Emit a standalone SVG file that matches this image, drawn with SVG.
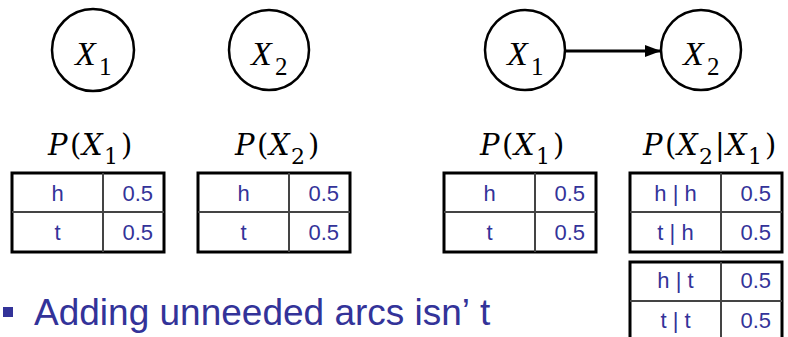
<svg xmlns="http://www.w3.org/2000/svg" width="788" height="337" viewBox="0 0 788 337">
<style>
.node{fill:#fff;stroke:#000;stroke-width:2.5}
.math{font-family:"Liberation Serif","Times New Roman",serif;fill:#000}
.lab{font-family:"DejaVu Serif","Liberation Serif",serif;fill:#000;font-size:29px}
.it{font-style:italic}
.nx{font-size:34px}
.ns{font-size:25px}
.ls{font-size:22px}
.tbl{fill:#fff;stroke:#000;stroke-width:3}
.grid{stroke:#444;stroke-width:2}
.cell{font-family:"Liberation Sans",Arial,sans-serif;font-size:22px;fill:#333399}
.c{text-anchor:middle}
.r{text-anchor:end}
.bullet{font-family:"Liberation Sans",Arial,sans-serif;font-size:37px;fill:#333399}
</style>
<defs>
<marker id="ah" markerWidth="16" markerHeight="12" refX="16" refY="6" orient="auto" markerUnits="userSpaceOnUse">
<path d="M0,0 L16,6 L0,12 Z" fill="#000"/>
</marker>
</defs>

<g id="connectors">
<line x1="566" y1="51" x2="661" y2="51" stroke="#000" stroke-width="3" marker-end="url(#ah)"/>
</g>

<g id="nodeA1">
<circle class="node" cx="93" cy="50" r="41"/>
<text class="math nx"><tspan class="it" x="75" y="65">X</tspan><tspan class="ns" x="99" y="75">1</tspan></text>
</g>
<g id="nodeA2">
<circle class="node" cx="269" cy="50" r="40"/>
<text class="math nx"><tspan class="it" x="251" y="65">X</tspan><tspan class="ns" x="275" y="75">2</tspan></text>
</g>
<g id="nodeB1">
<circle class="node" cx="525" cy="50" r="40"/>
<text class="math nx"><tspan class="it" x="507" y="65">X</tspan><tspan class="ns" x="531" y="75">1</tspan></text>
</g>
<g id="nodeB2">
<circle class="node" cx="701" cy="50" r="40"/>
<text class="math nx"><tspan class="it" x="683" y="65">X</tspan><tspan class="ns" x="707" y="75">2</tspan></text>
</g>

<g id="tableA1">
<text class="lab"><tspan class="it" x="48" y="155">P</tspan><tspan x="70" y="155">(</tspan><tspan class="it" x="82" y="155">X</tspan><tspan class="ls" x="104" y="164">1</tspan><tspan x="121" y="155">)</tspan></text>
<rect class="tbl" x="12" y="173" width="152" height="79"/>
<line class="grid" x1="103" y1="173" x2="103" y2="252"/>
<line class="grid" x1="12" y1="212" x2="164" y2="212"/>
<text class="cell c" x="57.5" y="201">h</text>
<text class="cell r" x="153" y="201">0.5</text>
<text class="cell c" x="57.5" y="240">t</text>
<text class="cell r" x="153" y="240">0.5</text>
</g>

<g id="tableA2">
<text class="lab"><tspan class="it" x="235" y="155">P</tspan><tspan x="257" y="155">(</tspan><tspan class="it" x="269" y="155">X</tspan><tspan class="ls" x="291" y="164">2</tspan><tspan x="308" y="155">)</tspan></text>
<rect class="tbl" x="198" y="173" width="152" height="79"/>
<line class="grid" x1="289" y1="173" x2="289" y2="252"/>
<line class="grid" x1="198" y1="212" x2="350" y2="212"/>
<text class="cell c" x="243.5" y="201">h</text>
<text class="cell r" x="339" y="201">0.5</text>
<text class="cell c" x="243.5" y="240">t</text>
<text class="cell r" x="339" y="240">0.5</text>
</g>

<g id="tableB1">
<text class="lab"><tspan class="it" x="480" y="155">P</tspan><tspan x="502" y="155">(</tspan><tspan class="it" x="514" y="155">X</tspan><tspan class="ls" x="536" y="164">1</tspan><tspan x="553" y="155">)</tspan></text>
<rect class="tbl" x="444" y="173" width="152" height="79"/>
<line class="grid" x1="535" y1="173" x2="535" y2="252"/>
<line class="grid" x1="444" y1="212" x2="596" y2="212"/>
<text class="cell c" x="489.5" y="201">h</text>
<text class="cell r" x="585" y="201">0.5</text>
<text class="cell c" x="489.5" y="240">t</text>
<text class="cell r" x="585" y="240">0.5</text>
</g>

<g id="tableB2">
<text class="lab"><tspan class="it" x="643" y="155">P</tspan><tspan x="665" y="155">(</tspan><tspan class="it" x="677" y="155">X</tspan><tspan class="ls" x="699" y="164">2</tspan><tspan x="715" y="155">|</tspan><tspan class="it" x="726" y="155">X</tspan><tspan class="ls" x="748" y="164">1</tspan><tspan x="765" y="155">)</tspan></text>
<rect class="tbl" x="630" y="173" width="152" height="79"/>
<line class="grid" x1="721" y1="173" x2="721" y2="252"/>
<line class="grid" x1="630" y1="212" x2="782" y2="212"/>
<text class="cell c" x="675.5" y="201">h | h</text>
<text class="cell r" x="771" y="201">0.5</text>
<text class="cell c" x="675.5" y="240">t | h</text>
<text class="cell r" x="771" y="240">0.5</text>
<rect class="tbl" x="630" y="262" width="152" height="80"/>
<line class="grid" x1="721" y1="262" x2="721" y2="342"/>
<line class="grid" x1="630" y1="301" x2="782" y2="301"/>
<text class="cell c" x="675.5" y="288">h | t</text>
<text class="cell r" x="771" y="288">0.5</text>
<text class="cell c" x="675.5" y="328">t | t</text>
<text class="cell r" x="771" y="328">0.5</text>
</g>

<g id="bullet">
<rect x="3" y="307" width="10" height="10" fill="#333399"/>
<text class="bullet" x="34" y="325">Adding unneeded arcs isn’<tspan dx="10">t</tspan></text>
</g>
</svg>
